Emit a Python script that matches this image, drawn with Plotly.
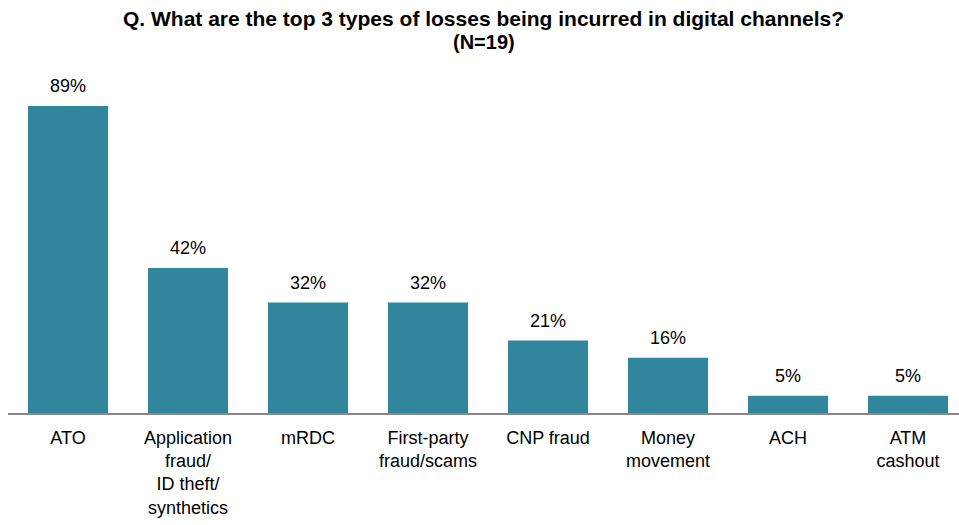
import plotly.graph_objects as go

categories = ["ATO", "Application<br>fraud/<br>ID theft/<br>synthetics", "mRDC",
              "First-party<br>fraud/scams", "CNP fraud", "Money<br>movement",
              "ACH", "ATM<br>cashout"]
values = [89, 42, 32, 32, 21, 16, 5, 5]
value_labels = [f"{v}%" for v in values]
title_lines = ["Q. What are the top 3 types of losses being incurred in digital channels?",
               "(N=19)"]

BAR_COLOR = "#31859C"
FONT = "Liberation Sans, Arial, sans-serif"

fig = go.Figure(go.Bar(
    x=list(range(len(categories))),
    y=values,
    marker=dict(color=BAR_COLOR, line=dict(width=0)),
    width=0.667,
    hoverinfo="skip",
))

for i, (v, t) in enumerate(zip(values, value_labels)):
    fig.add_annotation(x=i, y=v, text=t, showarrow=False, yanchor="bottom",
                       yshift=8, font=dict(family=FONT, size=18, color="#000000"))

# Chart title: two centred bold lines above the plot area
for line, shift, size in zip(title_lines, [42, 18], [21, 20]):
    fig.add_annotation(
        xref="paper", yref="paper", x=0.5, y=1.0, xanchor="center", yanchor="middle",
        yshift=shift, showarrow=False, text=f"<b>{line}</b>",
        font=dict(family=FONT, size=size, color="#000000"),
    )

fig.update_layout(
    width=959, height=525,
    margin=dict(l=8, r=0, t=60, b=112),
    paper_bgcolor="white", plot_bgcolor="white",
    showlegend=False,
    xaxis=dict(
        range=[-0.5, 7.425],
        tickmode="array",
        tickvals=list(range(len(categories))),
        ticktext=categories,
        showgrid=False, zeroline=False,
        showline=True, linecolor="#898989", linewidth=2,
        ticks="", ticklabelstandoff=7,
        tickfont=dict(family=FONT, size=18, color="#000000"),
    ),
    yaxis=dict(range=[0, 102.3], visible=False),
)

fig.write_html("out.html")
